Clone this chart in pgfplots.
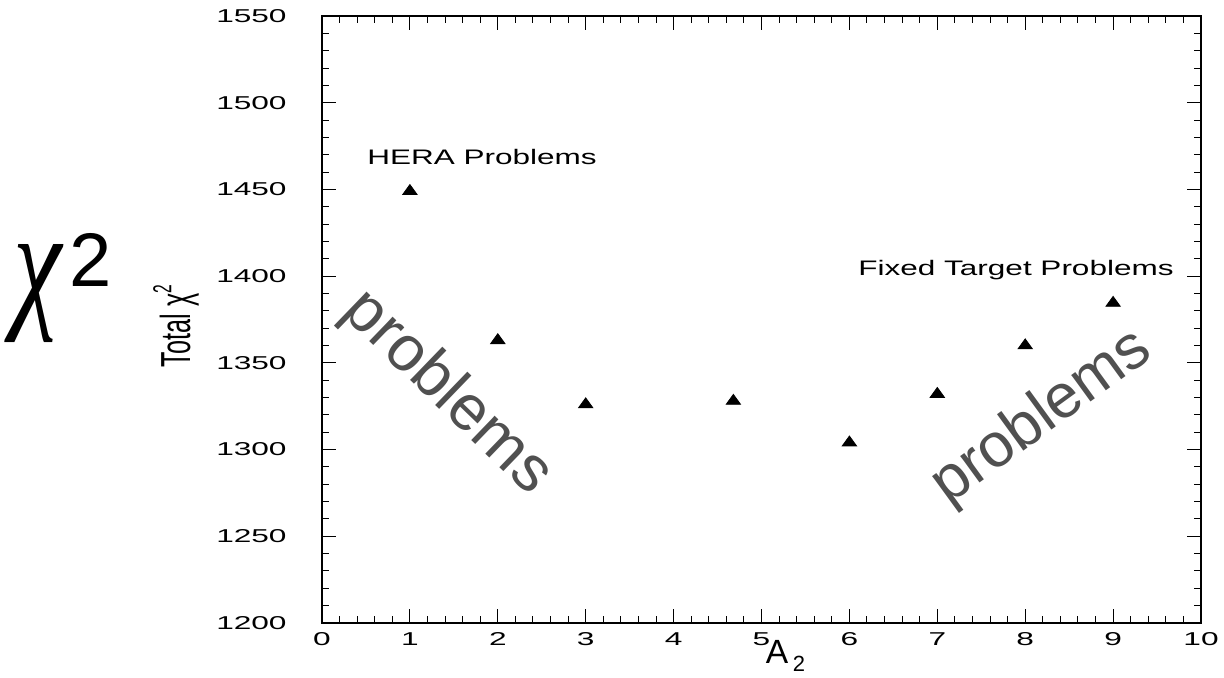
\documentclass[border=0pt]{standalone}
\usepackage{pgfplots}
\pgfplotsset{compat=1.18}
\usepackage{fontspec}
\setmainfont{Liberation Sans}
\newfontfamily\pawfont[FakeStretch=1.5]{Liberation Sans}
\newfontfamily\pawtick[FakeStretch=1.7]{Liberation Sans}
\newfontfamily\narrowfont[FakeStretch=0.6]{Liberation Sans}
\newfontfamily\greekfont{Liberation Serif}
\definecolor{wm}{HTML}{505050}
\begin{document}
\begin{tikzpicture}
\useasboundingbox (-161pt,-27pt) rectangle (451pt,311.5pt);
\begin{axis}[
  at={(0,0)}, anchor=south west,
  scale only axis, width=439.5pt, height=303.5pt,
  xmin=0, xmax=10, ymin=1200, ymax=1550,
  xtick={0,1,...,10}, ytick={1200,1250,...,1550},
  minor x tick num=4, minor y tick num=4,
  tick align=inside,
  major tick length=7pt, minor tick length=3.5pt,
  axis line style={line width=0.75pt},
  tick style={line width=0.5pt, black},
  /pgf/number format/assume math mode=true,
  /pgf/number format/1000 sep={},
  ticklabel style={font=\pawtick\fontsize{9.3}{10}\selectfont},
  yticklabel style={inner sep=0pt, anchor=east, xshift=-17.5pt},
  xticklabel style={inner sep=0pt, anchor=north, yshift=-4.5pt},
  clip=false,
]
\addplot[only marks, mark=triangle*, mark size=3.3pt, mark options={fill=black, draw=black, xscale=1.25}]
  coordinates {(1,1449) (2,1363) (3,1326) (4.68,1328) (6,1304) (7,1332) (8,1360) (9,1384.5)};
\end{axis}
\begin{scope}[x=0.5pt,y=-0.5pt,shift={(-161pt,311.5pt)}]
  \node[inner sep=0pt, font=\pawfont\fontsize{10.5}{11}\selectfont] at (482,157) {HERA Problems};
  \node[inner sep=0pt, font=\pawfont\fontsize{10.5}{11}\selectfont] at (1016,270) {Fixed Target Problems};
  \node[inner sep=0pt, text=wm, rotate=-44, font=\fontsize{32}{32}\selectfont] at (447,393) {problems};
  \node[inner sep=0pt, text=wm, rotate=36, font=\fontsize{31}{31}\selectfont] at (1042,418) {problems};
  \node[inner sep=0pt, xscale=0.75, font=\greekfont\itshape\fontsize{73}{73}\selectfont] at (38,294) {χ};
  \node[inner sep=0pt, font=\fontsize{38}{38}\selectfont] at (91,260) {2};
  \node[inner sep=0pt, rotate=90, font=\narrowfont\fontsize{21}{21}\selectfont] at (176,326) {Total χ\raisebox{0.45em}{\fontsize{13}{13}\selectfont 2}};
  \node[inner sep=0pt, font=\fontsize{16.8}{17}\selectfont] at (777,652) {A};
  \node[inner sep=0pt, font=\fontsize{11}{11}\selectfont] at (799,664) {2};
\end{scope}
\end{tikzpicture}
\end{document}
